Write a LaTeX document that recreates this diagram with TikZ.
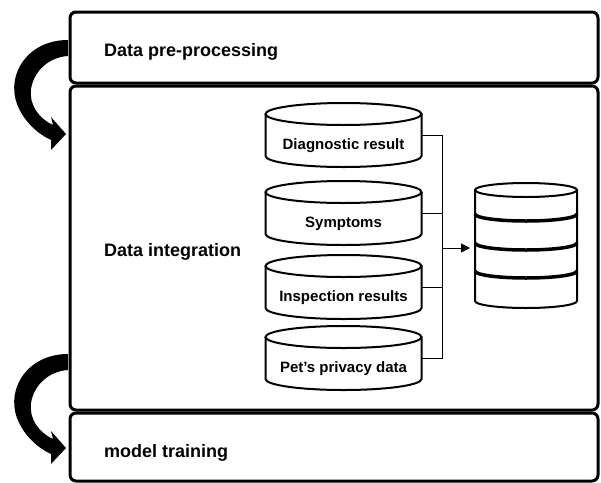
\documentclass[tikz,border=0pt]{standalone}
\usepackage{fontspec}
\setmainfont{Liberation Sans}
\usetikzlibrary{arrows.meta}
\tikzset{
  stagebox/.style={draw=black, line width=3pt, rounded corners=6pt},
  stagetext/.style={anchor=base west, inner sep=0pt, font=\fontsize{18}{20}\selectfont\bfseries},
  cyltext/.style={inner sep=0pt, font=\fontsize{15}{17}\selectfont\bfseries},
  cylline/.style={draw=black, line width=2pt},
  conn/.style={draw=black, line width=1pt},
  band/.style={draw=black, line width=3.5pt},
  bentarrow/.pic={
    \fill[black] (68,40) .. controls (28,40) and (6,74) .. (17,104)
      .. controls (24,122) and (38,134) .. (51,140)
      -- (51,150) -- (66,134) -- (51,117) -- (53,125)
      .. controls (38,118) and (29,104) .. (31,89)
      .. controls (34,70) and (50,57) .. (68,56) -- cycle;
  }
}
\newcommand\smallcyl[4]{% name, top y, text, unused
  \node[minimum width=156pt, minimum height=64pt, inner sep=0pt] (#1) at (343.5,#2+32) {};
  \draw[cylline] (265.5,#2+11) -- (265.5,#2+53)
     arc[start angle=180, end angle=0, x radius=78, y radius=11]
     -- (421.5,#2+11);
  \draw[cylline] (343.5,#2+11) ellipse[x radius=78, y radius=11];
  \node[cyltext] (#1t) at (343.5,#2+43) {#3};
}
\begin{document}
\begin{tikzpicture}[x=1pt,y=-1pt]
\useasboundingbox (0,0) rectangle (601,482);
% stage boxes
\draw[stagebox] (70,12) rectangle (598,83);
\draw[stagebox] (70,86) rectangle (598,410);
\draw[stagebox] (70,413) rectangle (598,481);
\node[stagetext] (s1) at (104,56) {Data pre-processing};
\node[stagetext] (s2) at (104,256) {Data integration};
\node[stagetext] (s3) at (104,457) {model training};
% curved arrows
\pic at (0,0) {bentarrow};
\pic at (0,314) {bentarrow};
% data cylinders
\smallcyl{d1}{103}{Diagnostic result}{}
\smallcyl{d2}{181}{Symptoms}{}
\smallcyl{d3}{255}{Inspection results}{}
\smallcyl{d4}{326}{Pet’s privacy data}{}
% big cylinder
\node[minimum width=102pt, minimum height=125pt, inner sep=0pt] (big) at (526,246) {};
\draw[cylline] (475,190) -- (475,301)
   arc[start angle=180, end angle=0, x radius=51, y radius=7] -- (577,190);
\draw[cylline] (526,190) ellipse[x radius=51, y radius=7];
\draw[band] (475,214) arc[start angle=180, end angle=0, x radius=51, y radius=7];
\draw[band] (475,243) arc[start angle=180, end angle=0, x radius=51, y radius=7];
\draw[band] (475,271) arc[start angle=180, end angle=0, x radius=51, y radius=7];
% connectors
\coordinate (j) at (442,248);
\draw[conn] (d1.east) -| (j);
\draw[conn] (d2.east) -| (j);
\draw[conn] (d3.east) -| (j);
\draw[conn] (d4.east) -| (j);
\draw[conn, -{Triangle[length=9pt,width=9pt]}] (j) -- (470,248);
\end{tikzpicture}
\end{document}
